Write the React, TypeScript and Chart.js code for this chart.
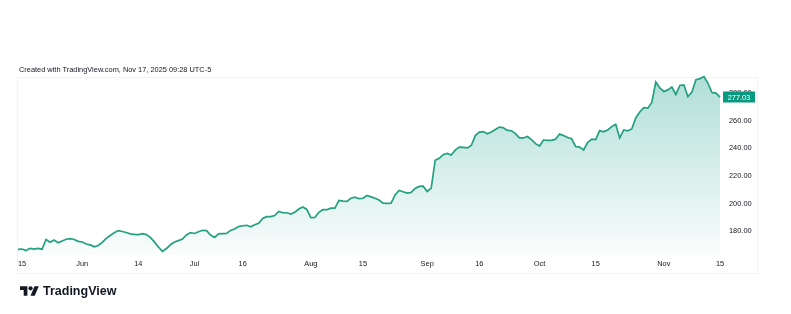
import React, { useEffect, useRef } from 'react';
import { Chart, registerables } from 'chart.js';

Chart.register(...registerables);

const caption = 'Created with TradingView.com, Nov 17, 2025 09:28 UTC-5';
const brand = 'TradingView';
const timeLabels = ['15', 'Jun', '14', 'Jul', '16', 'Aug', '15', 'Sep', '16', 'Oct', '15', 'Nov', '15'];
const timeLabelAt = [1, 16, 30, 44, 56, 73, 86, 102, 115, 130, 144, 161, 175];
const priceTicks = [180, 200, 220, 240, 260, 280];
const lastPrice = 277.03;

const prices = [
  166.8, 167.0, 165.9, 167.5, 167.0, 167.5, 166.9, 173.9, 171.9, 173.6,
  171.6, 172.9, 174.1, 174.5, 173.9, 172.6, 172.1, 170.7, 170.0, 168.6,
  169.6, 171.9, 174.8, 176.8, 178.9, 180.4, 179.7, 179.0, 178.0, 177.6,
  177.5, 178.1, 177.5, 175.5, 172.2, 168.5, 165.3, 167.4, 170.1, 172.1,
  173.1, 174.3, 177.2, 178.9, 178.3, 179.6, 180.6, 180.4, 177.2, 175.4,
  178.0, 178.2, 178.4, 180.5, 181.5, 183.3, 183.9, 184.2, 183.1, 184.6,
  185.6, 189.2, 190.5, 190.5, 191.3, 194.2, 193.3, 193.3, 192.4, 193.7,
  196.0, 197.5, 195.7, 189.7, 189.9, 193.6, 195.5, 195.5, 196.6, 196.6,
  202.2, 201.7, 201.5, 203.8, 204.6, 203.5, 203.8, 205.8, 204.8, 203.8,
  202.5, 200.3, 200.1, 200.2, 206.2, 209.4, 208.5, 207.6, 208.0, 210.9,
  212.4, 212.6, 208.7, 211.2, 231.3, 232.7, 235.4, 236.3, 235.1, 238.7,
  240.9, 240.7, 240.3, 242.0, 249.2, 251.7, 252.1, 250.5, 251.8, 253.6,
  255.4, 254.8, 253.0, 252.7, 250.6, 247.5, 247.5, 248.5, 246.3, 243.4,
  241.6, 246.0, 245.8, 245.8, 246.6, 250.4, 249.2, 247.8, 246.9, 241.3,
  240.9, 238.8, 244.2, 246.7, 246.3, 252.8, 251.9, 253.3, 255.7, 257.4,
  247.5, 253.3, 252.7, 254.0, 262.0, 266.3, 269.4, 269.1, 273.2, 288.0,
  283.7, 281.2, 282.3, 284.4, 279.0, 285.5, 285.9, 277.4, 280.8, 289.7,
  290.5, 292.0, 287.1, 280.4, 280.0, 277.03,
];

const sessions = prices.map((_, i) => i);

const FONT = '"Liberation Sans", Arial, sans-serif';
const GREEN = '#089981';
const LINE = '#22a07f';
const TEXT = '#131722';
const FS = 7.4;

const decor = {
  id: 'decor',
  beforeDraw(chart: any) {
    const ctx = chart.ctx;
    ctx.save();
    ctx.fillStyle = '#ffffff';
    ctx.fillRect(0, 0, chart.width, chart.height);
    ctx.strokeStyle = '#f2f3f5';
    ctx.lineWidth = 1;
    ctx.strokeRect(17.5, 77.5, 740, 196);
    ctx.fillStyle = TEXT;
    ctx.font = `${FS}px ${FONT}`;
    ctx.textBaseline = 'alphabetic';
    ctx.textAlign = 'left';
    ctx.fillText(caption, 19, 71.5);
    ctx.restore();
  },
  afterDraw(chart: any) {
    const ctx = chart.ctx;
    const y = chart.scales.y.getPixelForValue(lastPrice);
    ctx.save();
    ctx.fillStyle = GREEN;
    ctx.fillRect(723, Math.round(y) - 5.5, 32, 11);
    ctx.fillStyle = '#ffffff';
    ctx.font = `${FS}px ${FONT}`;
    ctx.textAlign = 'center';
    ctx.textBaseline = 'middle';
    ctx.fillText(lastPrice.toFixed(2), 739, Math.round(y) + 0.5);
    ctx.restore();
  },
};

export default function App() {
  const ref = useRef<HTMLCanvasElement | null>(null);

  useEffect(() => {
    if (!ref.current) return;
    const chart = new Chart(ref.current, {
      type: 'line',
      data: {
        labels: sessions,
        datasets: [
          {
            data: prices,
            borderColor: LINE,
            borderWidth: 1.7,
            pointRadius: 0,
            tension: 0,
            fill: 'start',
            backgroundColor: (c: any) => {
              const a = c.chart.chartArea;
              if (!a) return 'rgba(8,153,129,0.15)';
              const g = c.chart.ctx.createLinearGradient(0, a.top, 0, a.bottom);
              g.addColorStop(0, 'rgba(8,153,129,0.32)');
              g.addColorStop(1, 'rgba(8,153,129,0.02)');
              return g;
            },
          },
        ],
      },
      options: {
        responsive: false,
        animation: false,
        events: [],
        layout: { padding: { left: 18, top: 75, right: 34, bottom: 41 } },
        plugins: { legend: { display: false }, tooltip: { enabled: false }, title: { display: false } },
        scales: {
          x: {
            type: 'category',
            offset: false,
            grid: { display: false, drawTicks: false },
            border: { display: false },
            afterFit: (s: any) => { s.height = 18; },
            ticks: {
              autoSkip: false,
              maxRotation: 0,
              minRotation: 0,
              padding: 5,
              color: TEXT,
              font: { family: FONT, size: FS },
              callback: (_v: any, i: number) => {
                const k = timeLabelAt.indexOf(i);
                return k >= 0 ? timeLabels[k] : '';
              },
            },
          },
          y: {
            position: 'right',
            min: 162.7,
            max: 293.1,
            grid: { display: false, drawTicks: false },
            border: { display: false },
            afterFit: (s: any) => { s.width = 37; },
            afterBuildTicks: (s: any) => { s.ticks = priceTicks.map((v) => ({ value: v })); },
            ticks: {
              padding: 9,
              color: TEXT,
              font: { family: FONT, size: FS },
              callback: (v: any) => Number(v).toFixed(2),
            },
          },
        },
      },
      plugins: [decor],
    });
    return () => chart.destroy();
  }, []);

  return (
    <div style={{ position: 'absolute', left: 0, top: 0, width: 791, height: 314, background: '#fff', overflow: 'hidden' }}>
      <canvas ref={ref} width={791} height={314} style={{ position: 'absolute', left: 0, top: 0, width: 791, height: 314 }} />
      <div style={{ position: 'absolute', left: 20, top: 284, display: 'flex', alignItems: 'center', color: TEXT }}>
        <svg width={19} height={15} viewBox="0 0 36 28" style={{ display: 'block' }}>
          <path d="M14 22H7V11H0V4h14v18z" fill={TEXT} />
          <circle cx={20} cy={8} r={4} fill={TEXT} />
          <path d="M28 22h-8l7.5-18h8L28 22z" fill={TEXT} />
        </svg>
        <span style={{ marginLeft: 4, fontFamily: FONT, fontWeight: 700, fontSize: 12.5, lineHeight: '15px', letterSpacing: 0 }}>{brand}</span>
      </div>
    </div>
  );
}
